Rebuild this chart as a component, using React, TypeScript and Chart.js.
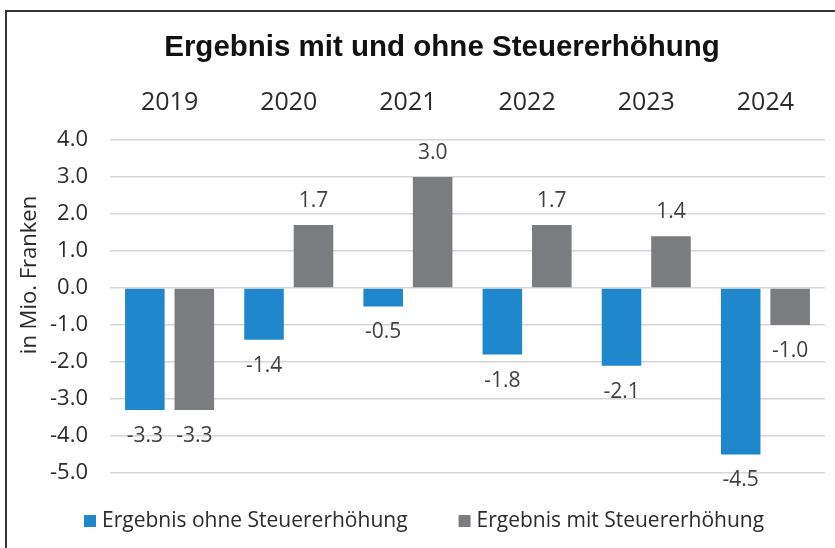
import React, { useEffect, useRef } from "react";
import { Chart, registerables } from "chart.js";

Chart.register(...registerables);

const title = "Ergebnis mit und ohne Steuererhöhung";
const yAxisTitle = "in Mio. Franken";
const categories = ["2019", "2020", "2021", "2022", "2023", "2024"];
const seriesNames = ["Ergebnis ohne Steuererhöhung", "Ergebnis mit Steuererhöhung"];
const ohneValues = [-3.3, -1.4, -0.5, -1.8, -2.1, -4.5];
const mitValues = [-3.3, 1.7, 3.0, 1.7, 1.4, -1.0];
const seriesColors = ["#1f88cc", "#7b7c7f"];
const yMin = -5;
const yMax = 4;
const yStep = 1;

const FONT = "'Open Sans', 'DejaVu Sans', sans-serif";
const TEXT = "#2b2b2b";

const decorPlugin = {
  id: "decor",
  beforeDraw(chart: any) {
    const ctx = chart.ctx;
    ctx.save();
    ctx.fillStyle = "#ffffff";
    ctx.fillRect(0, 0, chart.width, chart.height);
    ctx.strokeStyle = "#333333";
    ctx.lineWidth = 2;
    ctx.beginPath();
    ctx.moveTo(6, chart.height);
    ctx.lineTo(6, 11);
    ctx.lineTo(chart.width, 11);
    ctx.stroke();
    ctx.restore();
  },
  afterDraw(chart: any) {
    const ctx = chart.ctx;
    ctx.save();
    // title
    ctx.fillStyle = "#111111";
    ctx.font = "bold 29.5px 'Liberation Sans', Arial, sans-serif";
    ctx.textAlign = "center";
    ctx.textBaseline = "middle";
    ctx.fillText(title, 442, 48);
    // y axis title
    ctx.save();
    ctx.translate(30, 275);
    ctx.rotate(-Math.PI / 2);
    ctx.font = `22px ${FONT}`;
    ctx.fillStyle = TEXT;
    ctx.fillText(yAxisTitle, 0, 0);
    ctx.restore();
    // data labels
    ctx.font = `21px ${FONT}`;
    ctx.fillStyle = "#404040";
    chart.data.datasets.forEach((ds: any, di: number) => {
      const meta = chart.getDatasetMeta(di);
      meta.data.forEach((el: any, i: number) => {
        const v = ds.data[i];
        const y = v >= 0 ? el.y - 24 : el.y + 26;
        ctx.fillText(v.toFixed(1), el.x, y);
      });
    });
    // legend
    ctx.font = `21px ${FONT}`;
    ctx.textAlign = "left";
    let x = 84;
    const ly = 521;
    chart.data.datasets.forEach((ds: any) => {
      ctx.fillStyle = ds.backgroundColor;
      ctx.fillRect(x, ly - 6, 12, 12);
      ctx.fillStyle = TEXT;
      ctx.fillText(ds.label, x + 18, ly);
      x += 18 + ctx.measureText(ds.label).width + 51;
    });
    ctx.restore();
  },
};

export default function App() {
  const ref = useRef<HTMLCanvasElement | null>(null);
  useEffect(() => {
    document.body.style.margin = "0";
    const chart = new Chart(ref.current as HTMLCanvasElement, {
      type: "bar",
      data: {
        labels: categories,
        datasets: [
          { label: seriesNames[0], data: ohneValues, backgroundColor: seriesColors[0] },
          { label: seriesNames[1], data: mitValues, backgroundColor: seriesColors[1] },
        ],
      },
      options: {
        animation: false,
        responsive: false,
        layout: { padding: { top: 70, left: 0, right: 10, bottom: 75 } },
        datasets: { bar: { categoryPercentage: 0.83, barPercentage: 0.8 } } as any,
        plugins: { legend: { display: false }, tooltip: { enabled: false }, title: { display: false } },
        scales: {
          x: {
            position: "top",
            grid: { display: false, drawTicks: false },
            border: { display: false },
            ticks: { color: TEXT, font: { family: FONT, size: 25 }, padding: 22 },
            afterFit: (s: any) => { s.height = 70; },
          },
          y: {
            min: yMin,
            max: yMax,
            grid: { color: "#d6d6d6", lineWidth: 1.5, drawTicks: false },
            border: { display: false },
            ticks: {
              stepSize: yStep,
              color: TEXT,
              font: { family: FONT, size: 22 },
              padding: 22,
              callback: (v: any) => Number(v).toFixed(1),
            },
            afterFit: (s: any) => { s.width = 110; },
          },
        },
      },
      plugins: [decorPlugin],
    });
    return () => chart.destroy();
  }, []);
  return (
    <div style={{ width: 835, height: 548 }}>
      <canvas ref={ref} width={835} height={548} />
    </div>
  );
}
